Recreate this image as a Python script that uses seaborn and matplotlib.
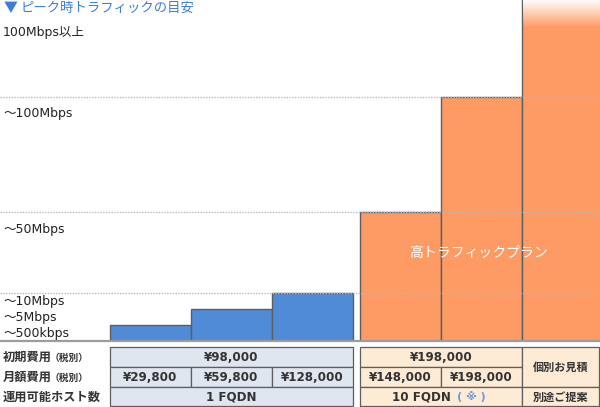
import numpy as np
import pandas as pd
import seaborn as sns
import matplotlib.pyplot as plt
from matplotlib.patches import Rectangle

# --- data -------------------------------------------------------------
title_mark = "▼"
title = "ピーク時トラフィックの目安"
tier_labels = ["～500kbps", "～5Mbps", "～10Mbps", "～50Mbps", "～100Mbps", "100Mbps以上"]
plan_group = ["standard", "standard", "standard", "high", "high", "high"]
plan_tier = [1, 2, 3, 4, 5, 6]
grid_tiers = [3, 4, 5]
band_label = "高トラフィックプラン"

row_labels = ["初期費用", "月額費用", "運用可能ホスト数"]
row_notes = ["（税別）", "（税別）", ""]
std_initial = "¥98,000"
std_monthly = ["¥29,800", "¥59,800", "¥128,000"]
std_hosts = "1 FQDN"
high_initial = "¥198,000"
high_monthly = ["¥148,000", "¥198,000"]
high_hosts = "10 FQDN"
high_hosts_note = "( ※ )"
top_initial = "個別お見積"
top_hosts = "別途ご提案"

# --- layout / style ---------------------------------------------------
W, H = 600, 407
BASE = 341                                  # baseline of the bars (px from top)
TIER_STEPS = [0, 1, 2, 3, 4, 5, 6]
TIER_PX = [0, 16, 32, 48, 129, 244, 341]    # tier -> px height above baseline
LABEL_OFF = [8, 8, 8, 17, 16, 32]           # px below tier top for the labels
BAR_W = 81
STD_X0, HIGH_X0 = 110, 360
ROWS = [347, 367, 387, 406]

BLUE = "#508bd8"
ORANGE = "#fe9a64"
EDGE = "#5e5e5e"
GRID = "#b8b8b8"
STD_FILL = "#dfe6f0"
HIGH_FILL = "#fdebd5"
TEXT = "#333333"
TITLE_BLUE = "#3b7dd8"

sns.set_theme(style="white")
plt.rcParams["font.family"] = ["DejaVu Sans", "Noto Sans CJK JP"]


def fwd(t):
    return np.interp(t, TIER_STEPS, TIER_PX)


def inv(p):
    return np.interp(p, TIER_PX, TIER_STEPS)


fig = plt.figure(figsize=(W / 100, H / 100), dpi=100)
fig.patch.set_facecolor("white")

# --- bars --------------------------------------------------------------
ax = fig.add_axes([0, (H - BASE) / H, 1, BASE / H])
centers = [STD_X0 + BAR_W * (i + 0.5) for i in range(3)] + \
          [HIGH_X0 + BAR_W * (i + 0.5) for i in range(3)]
df = pd.DataFrame({"x": centers, "tier": plan_tier, "group": plan_group})
sns.barplot(data=df, x="x", y="tier", hue="group",
            palette={"standard": BLUE, "high": ORANGE},
            native_scale=True, width=1, dodge=False, saturation=1,
            errorbar=None, legend=False, edgecolor=EDGE, linewidth=1, ax=ax)
ax.set_yscale("function", functions=(fwd, inv))
ax.set_xlim(0, W)
ax.set_ylim(0, 6)
ax.axis("off")

for t in grid_tiers:
    ax.axhline(t, color=GRID, lw=1, ls=(0, (1, 1)), zorder=5)
ax.axhline(0, color="#9c9c9c", lw=1.6, clip_on=False, zorder=6)

for tier, lab, off in zip(TIER_STEPS[1:], tier_labels, LABEL_OFF):
    ax.annotate(lab, xy=(3, tier), xytext=(0, -off * 0.72),
                textcoords="offset points", ha="left", va="center",
                fontsize=9, color="#222222")

# fade at the top of the highest bar
gax = fig.add_axes([523 / W, (H - 28) / H, (W - 523) / W, 28 / H])
grad = np.ones((28, 1, 4))
grad[:, 0, 3] = np.linspace(0.97, 0.0, 28)
gax.imshow(grad, aspect="auto", extent=(0, 1, 0, 1))
gax.axis("off")

# --- overlay in pixel coordinates: title, band label, table -------------
ov = fig.add_axes([0, 0, 1, 1])
ov.set_xlim(0, W)
ov.set_ylim(H, 0)
ov.axis("off")
ov.patch.set_alpha(0)

ov.text(4, 8, title_mark, color=TITLE_BLUE, fontsize=10, ha="left", va="center",
        family=["Noto Sans CJK JP"])
ov.text(21, 8, title, color=TITLE_BLUE, fontsize=9.6, ha="left", va="center")
ov.text(479, 253, band_label, color="white", fontsize=10, ha="center", va="center")


def cell(x0, x1, y0, y1, fill, text=None, **kw):
    ov.add_patch(Rectangle((x0, y0), x1 - x0, y1 - y0, facecolor=fill,
                           edgecolor=EDGE, lw=0.9))
    if text:
        ov.text((x0 + x1) / 2, (y0 + y1) / 2 + 0.5, text, ha="center", va="center",
                fontsize=kw.get("size", 8.6), fontweight="bold",
                color=kw.get("color", TEXT))


# row labels
for i, (lab, note) in enumerate(zip(row_labels, row_notes)):
    yc = (ROWS[i] + ROWS[i + 1]) / 2 + 0.5
    ov.text(3, yc, lab, ha="left", va="center", fontsize=8.8,
            fontweight="bold", color=TEXT)
    if note:
        ov.text(50, yc, note, ha="left", va="center", fontsize=7,
                fontweight="bold", color=TEXT)

# standard plans
sx = [STD_X0 + BAR_W * i for i in range(4)]
cell(sx[0], sx[3], ROWS[0], ROWS[1], STD_FILL, std_initial)
for i, v in enumerate(std_monthly):
    cell(sx[i], sx[i + 1], ROWS[1], ROWS[2], STD_FILL, v)
cell(sx[0], sx[3], ROWS[2], ROWS[3], STD_FILL, std_hosts)

# high traffic plans
hx = [HIGH_X0, HIGH_X0 + BAR_W, HIGH_X0 + 2 * BAR_W, 599]
cell(hx[0], hx[2], ROWS[0], ROWS[1], HIGH_FILL, high_initial)
for i, v in enumerate(high_monthly):
    cell(hx[i], hx[i + 1], ROWS[1], ROWS[2], HIGH_FILL, v)
cell(hx[2], hx[3], ROWS[0], ROWS[2], HIGH_FILL, top_initial, size=8)
cell(hx[0], hx[2], ROWS[2], ROWS[3], HIGH_FILL)
ov.text(451, (ROWS[2] + ROWS[3]) / 2 + 0.5, high_hosts, ha="right", va="center",
        fontsize=8.6, fontweight="bold", color=TEXT)
ov.text(457, (ROWS[2] + ROWS[3]) / 2 + 0.5, high_hosts_note, ha="left",
        va="center", fontsize=8, fontweight="bold", color="#6a9ae0")
cell(hx[2], hx[3], ROWS[2], ROWS[3], HIGH_FILL, top_hosts, size=8)

fig.savefig("out.png", dpi=100)
